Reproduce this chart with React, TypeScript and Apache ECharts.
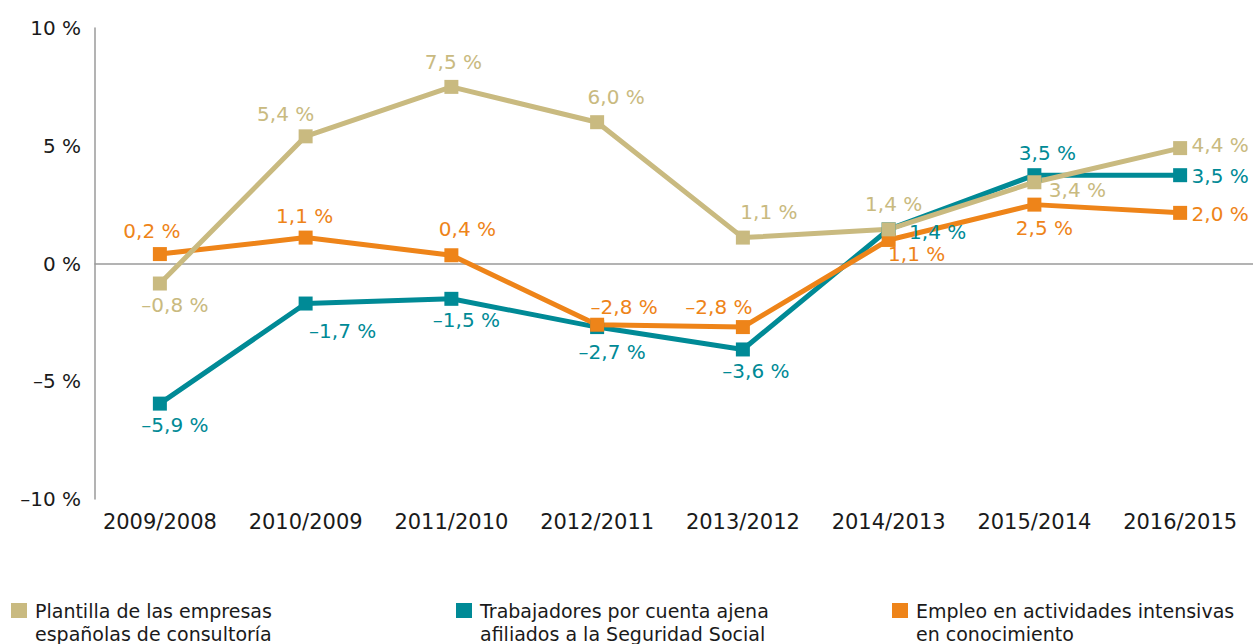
import React, { useEffect, useRef } from "react";
import * as echarts from "echarts";

const categories = [
  "2009/2008",
  "2010/2009",
  "2011/2010",
  "2012/2011",
  "2013/2012",
  "2014/2013",
  "2015/2014",
  "2016/2015",
];

const yTicks = [-10, -5, 0, 5, 10];

const plantillaName = "Plantilla de las empresas\nespañolas de consultoría";
const plantilla = [-0.85, 5.4, 7.5, 6.0, 1.1, 1.45, 3.45, 4.9];
const plantillaLabels = ["–0,8 %", "5,4 %", "7,5 %", "6,0 %", "1,1 %", "1,4 %", "3,4 %", "4,4 %"];

const trabajadoresName = "Trabajadores por cuenta ajena\nafiliados a la Seguridad Social";
const trabajadores = [-5.95, -1.7, -1.5, -2.7, -3.65, 1.45, 3.75, 3.75];
const trabajadoresLabels = ["–5,9 %", "–1,7 %", "–1,5 %", "–2,7 %", "–3,6 %", "1,4 %", "3,5 %", "3,5 %"];

const empleoName = "Empleo en actividades intensivas\nen conocimiento";
const empleo = [0.4, 1.1, 0.35, -2.6, -2.7, 1.0, 2.5, 2.15];
const empleoLabels = ["0,2 %", "1,1 %", "0,4 %", "–2,8 %", "–2,8 %", "1,1 %", "2,5 %", "2,0 %"];

// label placement (offset of the label centre from its marker)
const plantillaOffsets = [[15, 21], [-20, -22], [2, -25], [19, -25], [26, -26], [5, -25], [43, 8], [40, -3]];
const trabajadoresOffsets = [[15, 21], [37, 27], [15, 21], [15, 25], [13, 22], [49, 3], [13, -22], [40, 1]];
const empleoOffsets = [[-8, -23], [-1, -22], [16, -26], [27, -18], [-24, -20], [28, 14], [10, 23], [40, 1]];

const TAN = "#C9BA80";
const TEAL = "#008A96";
const ORANGE = "#EE8419";
const FONT = "DejaVu Sans";

const fmtTick = (v: number) => (v < 0 ? "–" + Math.abs(v) : String(v)) + " %";

function makeSeries(name: string, values: number[], labels: string[], offsets: number[][], color: string) {
  return {
    name,
    type: "line",
    xAxisIndex: 1,
    yAxisIndex: 1,
    data: values.map((v, i) => ({ value: v, label: { offset: offsets[i] } })),
    symbol: "rect",
    symbolSize: 14,
    showAllSymbol: true,
    lineStyle: { color, width: 5 },
    itemStyle: { color },
    label: {
      show: true,
      position: "inside",
      formatter: (p: any) => labels[p.dataIndex],
      color,
      fontSize: 20,
      fontFamily: FONT,
    },
    emphasis: { disabled: true },
  };
}

const legendIcon = "path://M0 0H16V15H0Z M0 37.99H0.01V38H0Z";

function makeLegend(name: string, left: number) {
  return {
    data: [name],
    left,
    top: 594,
    orient: "horizontal",
    icon: legendIcon,
    itemWidth: 16,
    itemHeight: 38,
    selectedMode: false,
    textStyle: {
      fontFamily: FONT,
      fontSize: 19,
      lineHeight: 23,
      color: "#1a1a1a",
      padding: [0, 0, 0, 3],
    },
  };
}

export default function App() {
  const ref = useRef<HTMLDivElement>(null);

  useEffect(() => {
    if (!ref.current) return;
    const chart = echarts.init(ref.current, null, { renderer: "svg" });
    const yMin = yTicks[0];
    const yMax = yTicks[yTicks.length - 1];
    const yInterval = yTicks[1] - yTicks[0];
    chart.setOption({
      animation: false,
      backgroundColor: "#ffffff",
      grid: [
        { left: 95, right: 0, top: 28, bottom: 145 },
        { left: 87, right: 0, top: 28, bottom: 145 },
      ],
      xAxis: [
        {
          gridIndex: 0,
          type: "value",
          min: 0,
          max: 1,
          axisLine: { show: true, onZero: true, lineStyle: { color: "#9a9a9a", width: 1.5 } },
          axisTick: { show: false },
          axisLabel: { show: false },
          splitLine: { show: false },
        },
        {
          gridIndex: 1,
          type: "category",
          data: categories,
          boundaryGap: true,
          axisLine: { show: false },
          axisTick: { show: false },
          axisLabel: {
            color: "#1a1a1a",
            fontSize: 21,
            fontFamily: FONT,
            margin: 12,
            interval: 0,
          },
          splitLine: { show: false },
        },
      ],
      yAxis: [
        {
          gridIndex: 0,
          type: "value",
          min: yMin,
          max: yMax,
          interval: yInterval,
          axisLine: { show: true, lineStyle: { color: "#9a9a9a", width: 1.5 } },
          axisTick: { show: false },
          splitLine: { show: false },
          axisLabel: {
            formatter: fmtTick,
            color: "#1a1a1a",
            fontSize: 20,
            fontFamily: FONT,
            margin: 14,
          },
        },
        {
          gridIndex: 1,
          type: "value",
          min: yMin,
          max: yMax,
          interval: yInterval,
          show: false,
          splitLine: { show: false },
        },
      ],
      legend: [
        makeLegend(plantillaName, 6),
        makeLegend(trabajadoresName, 451),
        makeLegend(empleoName, 887),
      ],
      series: [
        makeSeries(trabajadoresName, trabajadores, trabajadoresLabels, trabajadoresOffsets, TEAL),
        makeSeries(empleoName, empleo, empleoLabels, empleoOffsets, ORANGE),
        makeSeries(plantillaName, plantilla, plantillaLabels, plantillaOffsets, TAN),
      ],
    });
    return () => chart.dispose();
  }, []);

  return (
    <div
      ref={ref}
      style={{ position: "fixed", left: 0, top: 0, width: 1253, height: 644, background: "#fff" }}
    />
  );
}
